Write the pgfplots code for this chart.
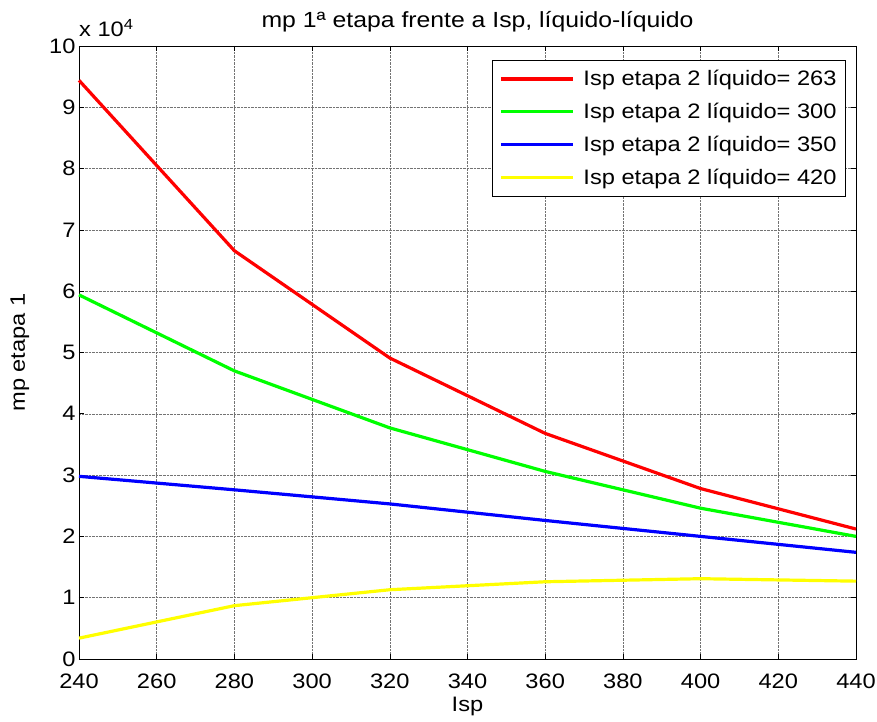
\documentclass[border=0pt]{standalone}
\usepackage{fontspec}
\setmainfont{Liberation Sans}[FakeStretch=1.13]
\usepackage{pgfplots}
\pgfplotsset{compat=1.18}
\definecolor{mgreen}{rgb}{0,1,0}
\definecolor{myellow}{rgb}{1,1,0}
\definecolor{mred}{rgb}{1,0,0}
\definecolor{mblue}{rgb}{0,0,1}
\begin{document}
\begin{tikzpicture}
\useasboundingbox (-79bp,-63bp) rectangle (798bp,659bp);
\begin{axis}[
  at={(0,0)}, anchor=south west,
  width=777bp, height=613bp, scale only axis,
  xmin=240, xmax=440, ymin=0, ymax=10,
  xtick={240,260,...,440}, ytick={0,1,...,10},
  grid=major,
  major grid style={densely dotted, black!55, line width=0.5pt},
  tick align=inside, major tick length=5bp,
  tick style={black, line width=0.6pt},
  axis line style={black, line width=0.8pt},
  /pgf/number format/assume math mode=true,
  font=\fontsize{21}{25}\selectfont,
  ticklabel style={font=\fontsize{21}{25}\selectfont},
  xticklabel style={yshift=-11bp},
  title={mp 1ª etapa frente a Isp, líquido-líquido},
  title style={font=\fontsize{22}{26}\selectfont, at={(axis description cs:0.5,1)}, anchor=base, yshift=13bp, xshift=10bp},
  xlabel={Isp}, ylabel={mp etapa 1},
  xlabel style={at={(axis description cs:0.5,0)}, anchor=north, yshift=-35bp},
  ylabel style={at={(axis description cs:-0.076,0.5)}, anchor=center},
  legend cell align=left,
  legend style={at={(0.987,0.977)}, anchor=north east, draw=black, line width=0.8pt,
    font=\fontsize{21}{25}\selectfont, inner xsep=7bp, inner ysep=8bp,
    row sep=12bp, /tikz/every odd column/.style={column sep=7bp}},
  legend image code/.code={\draw[#1, line width=3.2bp] (0bp,0bp) -- (72bp,0bp);},
  clip=false,
]
\addplot[mred, line width=3.2bp] coordinates {(240,9.44) (280,6.66) (320,4.91) (360,3.68) (400,2.78) (440,2.12)};
\addlegendentry{Isp etapa 2 líquido= 263}
\addplot[mgreen, line width=3.2bp] coordinates {(240,5.94) (280,4.70) (320,3.77) (360,3.06) (400,2.46) (440,2.00)};
\addlegendentry{Isp etapa 2 líquido= 300}
\addplot[mblue, line width=3.2bp] coordinates {(240,2.98) (280,2.76) (320,2.53) (360,2.26) (400,2.00) (440,1.74)};
\addlegendentry{Isp etapa 2 líquido= 350}
\addplot[myellow, line width=3.2bp] coordinates {(240,0.34) (280,0.87) (320,1.13) (360,1.26) (400,1.31) (440,1.27)};
\addlegendentry{Isp etapa 2 líquido= 420}
\node[anchor=base west, font=\fontsize{21}{25}\selectfont, inner sep=0pt] at (rel axis cs:0,1) [yshift=9bp] {x 10\textsuperscript{4}};
\end{axis}
\end{tikzpicture}
\end{document}
